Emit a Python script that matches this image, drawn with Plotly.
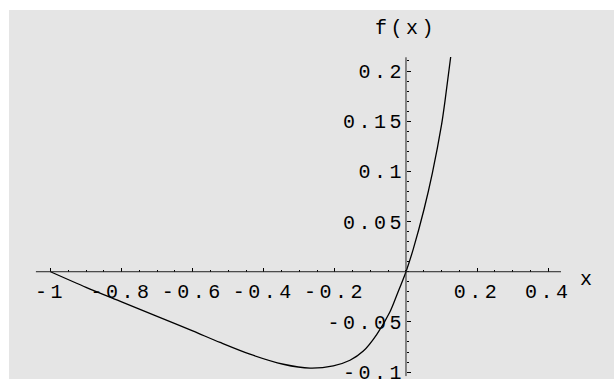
import plotly.graph_objects as go

# Data
x_vals = [-1, -0.9, -0.8, -0.7, -0.6, -0.523, -0.439, -0.345, -0.27, -0.2045,
          -0.1575, -0.12, -0.0825, -0.045, -0.026, 0, 0.0206, 0.0506, 0.074,
          0.1003, 0.1097, 0.1257]
f_vals = [0, -0.0155, -0.030, -0.0445, -0.059, -0.0705, -0.0822, -0.0922,
          -0.0961, -0.0938, -0.0882, -0.0791, -0.0627, -0.0399, -0.0235, 0,
          0.0228, 0.062, 0.098, 0.1470, 0.1700, 0.214]

x_ticks = [-1, -0.8, -0.6, -0.4, -0.2, 0.2, 0.4]
x_ticktext = ["-1", "-0.8", "-0.6", "-0.4", "-0.2", "0.2", "0.4"]
y_ticks = [-0.1, -0.05, 0.05, 0.1, 0.15, 0.2]
y_ticktext = ["-0.1", "-0.05", "0.05", "0.1", "0.15", "0.2"]

x_range = [-1.1167, 0.5851]
y_range = [-0.1069, 0.2608]
x_axis_extent = [-1.041, 0.436]
y_axis_extent = [-0.104, 0.2137]

x_minor = [round(-1 + 0.05 * i, 2) for i in range(29)]
y_minor = [round(-0.1 + 0.01 * i, 2) for i in range(32)]

FONT = "Liberation Mono"
FS = 20
LS = 3.5


def spaced(t):
    return f'<span style="letter-spacing:{LS}px">{t}</span>'


fig = go.Figure()
fig.add_trace(go.Scatter(x=x_vals, y=f_vals, mode="lines",
                         line=dict(color="black", width=1.3, shape="spline", smoothing=0.8),
                         hoverinfo="skip", showlegend=False))

xpos = (0 - y_range[0]) / (y_range[1] - y_range[0])
ypos = (0 - x_range[0]) / (x_range[1] - x_range[0])

fig.update_layout(
    width=614, height=385,
    margin=dict(l=9, r=0, t=10, b=0),
    paper_bgcolor="white",
    plot_bgcolor="#e5e5e5",
    showlegend=False,
    font=dict(family=FONT, size=FS, color="black"),
    xaxis=dict(range=x_range, showgrid=False, zeroline=False, showline=False,
               anchor="free", position=xpos, side="bottom",
               tickmode="array", tickvals=x_ticks, ticktext=[spaced(t) for t in x_ticktext],
               ticks="inside", ticklen=4, tickwidth=1, tickcolor="black",
               ticklabelstandoff=5, ticklabeloverflow="allow",
               minor=dict(tickmode="array", tickvals=x_minor, ticks="inside", ticklen=2,
                          tickcolor="black", showgrid=False),
               tickfont=dict(family=FONT, size=FS, color="black")),
    yaxis=dict(range=y_range, showgrid=False, zeroline=False, showline=False,
               anchor="free", position=ypos, side="left",
               tickmode="array", tickvals=y_ticks, ticktext=[spaced(t) for t in y_ticktext],
               ticks="inside", ticklen=4, tickwidth=1, tickcolor="black",
               ticklabelstandoff=1, ticklabeloverflow="allow",
               minor=dict(tickmode="array", tickvals=y_minor, ticks="inside", ticklen=2,
                          tickcolor="black", showgrid=False),
               tickfont=dict(family=FONT, size=FS, color="black")),
)

fig.add_shape(type="line", xref="x", yref="y", x0=x_axis_extent[0], x1=x_axis_extent[1], y0=0, y1=0,
              line=dict(color="#222", width=1), layer="above")
fig.add_shape(type="line", xref="x", yref="y", x0=0, x1=0, y0=y_axis_extent[0], y1=y_axis_extent[1],
              line=dict(color="#222", width=1), layer="above")

fig.add_annotation(x=0.0, y=0.2425, xref="x", yref="y", text=spaced("f(x)"), showarrow=False,
                   font=dict(family=FONT, size=FS, color="black"), xanchor="center", yanchor="middle")
fig.add_annotation(x=0.506, y=-0.008, xref="x", yref="y", text="x", showarrow=False,
                   font=dict(family=FONT, size=FS, color="black"), xanchor="center", yanchor="middle")

fig.write_html("out.html")
